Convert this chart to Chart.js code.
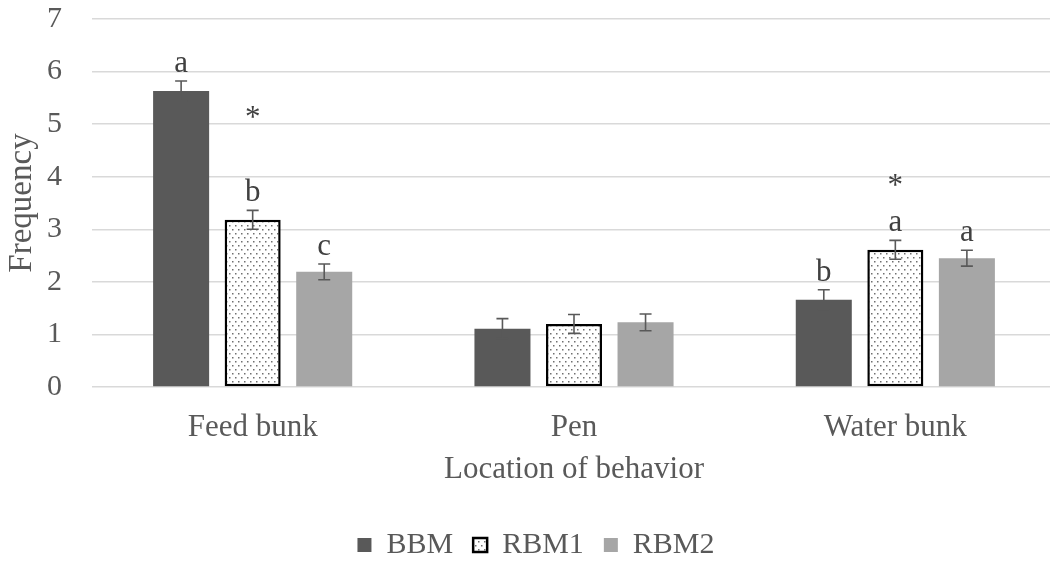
<!DOCTYPE html>
<html>
<head>
<meta charset="utf-8">
<script src="https://cdn.jsdelivr.net/npm/chart.js@4"></script>
<style>
  html, body { margin: 0; padding: 0; background: #fff; overflow: hidden; }
  #wrap { width: 1056px; height: 563px; }
</style>
</head>
<body>
<div id="wrap"><canvas id="chart" width="1056" height="563"></canvas></div>
<script>
const categories = ['Feed bunk', 'Pen', 'Water bunk'];
const seriesNames = ['BBM', 'RBM1', 'RBM2'];

const bbmValues = [5.63, 1.11, 1.66];
const rbm1Values = [3.18, 1.20, 2.61];
const rbm2Values = [2.19, 1.23, 2.45];

const bbmErrors = [0.19, 0.19, 0.19];
const rbm1Errors = [0.18, 0.18, 0.18];
const rbm2Errors = [0.15, 0.16, 0.15];

// significance letters above each bar ('' = none)
const bbmLetters = ['a', '', 'b'];
const rbm1Letters = ['b', '', 'a'];
const rbm2Letters = ['c', '', 'a'];

// asterisks: value (baseline height) per category, null = none
const starLevels = [4.95, null, 3.65];

const yTicks = [0, 1, 2, 3, 4, 5, 6, 7];

const serif = '"Liberation Serif", "Times New Roman", serif';
const textColor = '#595959';

function dotPattern() {
  const c = document.createElement('canvas');
  c.width = 6;
  c.height = 8;
  const g = c.getContext('2d');
  g.fillStyle = '#ffffff';
  g.fillRect(0, 0, 6, 8);
  g.fillStyle = '#707070';
  g.fillRect(1, 1, 1.5, 1.5);
  g.fillRect(4, 5, 1.5, 1.5);
  return g.createPattern(c, 'repeat');
}

const errorBars = {
  id: 'errorBars',
  afterDatasetsDraw(chart) {
    const ctx = chart.ctx;
    const y = chart.scales.y;
    ctx.save();
    ctx.strokeStyle = '#595959';
    ctx.lineWidth = 1.6;
    chart.data.datasets.forEach((ds, i) => {
      const meta = chart.getDatasetMeta(i);
      meta.data.forEach((bar, j) => {
        const v = ds.data[j];
        const e = ds.errors[j];
        const top = y.getPixelForValue(v + e);
        const bot = y.getPixelForValue(v - e);
        const half = 6;
        ctx.beginPath();
        ctx.moveTo(bar.x, top);
        ctx.lineTo(bar.x, bot);
        ctx.moveTo(bar.x - half, top);
        ctx.lineTo(bar.x + half, top);
        ctx.moveTo(bar.x - half, bot);
        ctx.lineTo(bar.x + half, bot);
        ctx.stroke();
      });
    });
    ctx.restore();
  }
};

const annotations = {
  id: 'annotations',
  afterDraw(chart) {
    const ctx = chart.ctx;
    const y = chart.scales.y;
    ctx.save();
    ctx.font = '31px ' + serif;
    ctx.fillStyle = '#404040';
    ctx.textAlign = 'center';
    ctx.textBaseline = 'alphabetic';
    chart.data.datasets.forEach((ds, i) => {
      const meta = chart.getDatasetMeta(i);
      meta.data.forEach((bar, j) => {
        const letter = ds.letters[j];
        if (!letter) return;
        const top = y.getPixelForValue(ds.data[j] + ds.errors[j]);
        ctx.fillText(letter, bar.x, top - 9);
      });
    });
    // asterisks sit over the RBM1 bar
    const mid = chart.getDatasetMeta(1);
    starLevels.forEach((lvl, j) => {
      if (lvl === null) return;
      ctx.fillText('*', mid.data[j].x, y.getPixelForValue(lvl));
    });
    ctx.restore();
  }
};

// nudge legend to where the reference puts it
const legendShift = {
  id: 'legendShift',
  afterLayout(chart) {
    const lg = chart.legend;
    lg.top += 7;
    lg.bottom += 7;
    lg.left += 8;
    lg.right += 8;
  }
};

const pattern = dotPattern();

new Chart(document.getElementById('chart'), {
  type: 'bar',
  data: {
    labels: categories,
    datasets: [
      {
        label: seriesNames[0],
        data: bbmValues,
        errors: bbmErrors,
        letters: bbmLetters,
        backgroundColor: '#595959',
        borderWidth: 0
      },
      {
        label: seriesNames[1],
        data: rbm1Values,
        errors: rbm1Errors,
        letters: rbm1Letters,
        backgroundColor: pattern,
        borderColor: '#000000',
        borderWidth: 2.5,
        borderSkipped: false
      },
      {
        label: seriesNames[2],
        data: rbm2Values,
        errors: rbm2Errors,
        letters: rbm2Letters,
        backgroundColor: '#a6a6a6',
        borderWidth: 0
      }
    ]
  },
  options: {
    responsive: false,
    animation: false,
    categoryPercentage: 0.668,
    barPercentage: 0.783,
    layout: { padding: { top: 0, bottom: 0, left: 0, right: 0 } },
    plugins: {
      legend: {
        position: 'bottom',
        labels: {
          font: { family: serif, size: 30 },
          color: textColor,
          boxWidth: 14,
          boxHeight: 14,
          padding: 20
        }
      },
      tooltip: { enabled: false }
    },
    scales: {
      x: {
        grid: { display: false, drawTicks: false },
        border: { display: false },
        ticks: {
          font: { family: serif, size: 31 },
          color: textColor,
          padding: 22
        },
        title: {
          display: true,
          text: 'Location of behavior',
          font: { family: serif, size: 31 },
          color: textColor,
          padding: { top: 3, bottom: 15 }
        },
        afterFit(scale) { scale.height = 116; }
      },
      y: {
        min: 0,
        max: 7,
        afterBuildTicks(scale) {
          scale.ticks = yTicks.map(v => ({ value: v }));
        },
        grid: {
          color: '#d9d9d9',
          lineWidth: 1.5,
          drawTicks: true,
          tickLength: 29,
          tickColor: 'rgba(0,0,0,0)'
        },
        border: { display: false },
        ticks: {
          font: { family: serif, size: 30 },
          color: textColor,
          padding: 1
        },
        title: {
          display: true,
          text: 'Frequency',
          font: { family: serif, size: 33 },
          color: textColor,
          padding: { top: 3, bottom: 0 }
        },
        afterFit(scale) { scale.width = 92; }
      }
    }
  },
  plugins: [errorBars, annotations, legendShift]
});
</script>
</body>
</html>
